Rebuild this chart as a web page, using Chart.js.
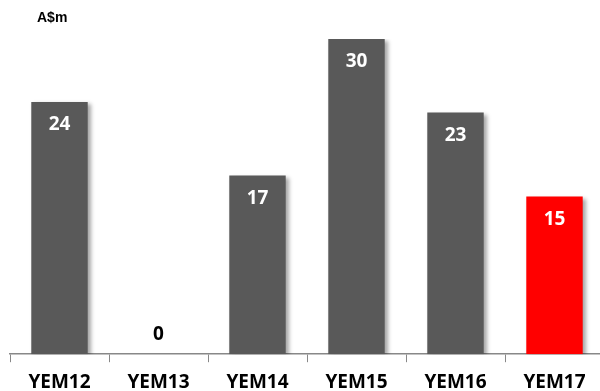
<!DOCTYPE html>
<html>
<head>
<meta charset="utf-8">
<script src="https://cdn.jsdelivr.net/npm/chart.js@4/dist/chart.umd.min.js"></script>
<style>
  html, body { margin: 0; padding: 0; background: #fff; overflow: hidden; }
  #wrap { position: relative; width: 600px; height: 391px; overflow: hidden; }
</style>
</head>
<body>
<div id="wrap"><canvas id="chart" width="604" height="403"></canvas></div>
<script>
// Data
const categories = ["YEM12", "YEM13", "YEM14", "YEM15", "YEM16", "YEM17"];
const values = [24, 0, 17, 30, 23, 15];
const barColors = ["#595959", "#595959", "#595959", "#595959", "#595959", "#FF0000"];
const unitLabel = "A$m";

// Shadow behind bars + value labels + unit label
const barExtras = {
    id: "barExtras",
    beforeDatasetsDraw(chart) {
        const ctx = chart.ctx;
        ctx.save();
        ctx.shadowColor = "rgba(0,0,0,0.35)";
        ctx.shadowBlur = 4;
        ctx.shadowOffsetX = 3;
        ctx.shadowOffsetY = 2;
    },
    afterDatasetsDraw(chart) {
        const ctx = chart.ctx;
        ctx.restore();
        ctx.save();
        ctx.font = "bold 19px 'Open Sans', sans-serif";
        ctx.textAlign = "center";
        ctx.textBaseline = "middle";
        chart.getDatasetMeta(0).data.forEach((bar, i) => {
            const v = values[i];
            if (v === 0) {
                ctx.fillStyle = "#000";
                ctx.fillText(String(v), bar.x, bar.y - 20);
            } else {
                ctx.fillStyle = "#fff";
                ctx.fillText(String(v), bar.x, bar.y + 23);
            }
        });
        ctx.fillStyle = "#000";
        ctx.font = "bold 14px 'Liberation Sans', Arial, sans-serif";
        ctx.textAlign = "left";
        ctx.fillText(unitLabel, 37, 18);
        ctx.restore();
    }
};

new Chart(document.getElementById("chart"), {
    type: "bar",
    data: {
        labels: categories,
        datasets: [{
            data: values,
            backgroundColor: barColors,
            barPercentage: 0.57,
            categoryPercentage: 1.0
        }]
    },
    options: {
        responsive: false,
        animation: false,
        layout: { padding: { top: 39, left: 10, right: 0, bottom: 0 } },
        scales: {
            y: { display: false, min: 0, max: 30 },
            x: {
                border: { display: true, color: "#888", width: 1.5 },
                grid: { drawOnChartArea: false, tickLength: 8, color: "#888", offset: true },
                ticks: {
                    color: "#000",
                    padding: 9,
                    font: { family: "'Open Sans', sans-serif", size: 19, weight: "bold" }
                }
            }
        },
        plugins: { legend: { display: false }, tooltip: { enabled: false } }
    },
    plugins: [barExtras]
});
</script>
</body>
</html>
